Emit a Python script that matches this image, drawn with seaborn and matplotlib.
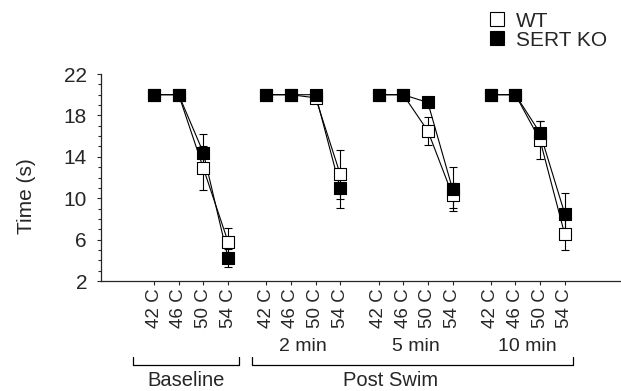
import matplotlib.pyplot as plt
import matplotlib.lines as mlines
import seaborn as sns
import pandas as pd
import numpy as np

sns.set_style('ticks')
plt.rcParams['font.family'] = ['Liberation Sans', 'DejaVu Sans']

# data
temps = ['42 C', '46 C', '50 C', '54 C']
groups = ['Baseline', '2 min', '5 min', '10 min']
wt_time = [20, 20, 12.9, 5.8, 20, 20, 19.7, 12.3, 20, 20, 16.5, 10.3, 20, 20, 15.6, 6.5]
wt_err = [0, 0, 2.1, 1.35, 0, 0, 0, 2.4, 0, 0, 1.35, 1.2, 0, 0, 1.85, 1.55]
ko_time = [20, 20, 14.4, 4.25, 20, 20, 20, 10.95, 20, 20, 19.25, 10.9, 20, 20, 16.3, 8.5]
ko_err = [0, 0, 1.8, 0.85, 0, 0, 0, 1.9, 0, 0, 0, 2.1, 0, 0, 1.2, 2.0]

gap = 4.55
xpos = [g * gap + i for g in range(len(groups)) for i in range(len(temps))]
rows = []
for geno, t, e in [('WT', wt_time, wt_err), ('SERT KO', ko_time, ko_err)]:
    for k in range(len(xpos)):
        rows.append({'geno': geno, 'group': groups[k // 4], 'temp': temps[k % 4],
                     'x': xpos[k], 'time': t[k], 'err': e[k]})
df = pd.DataFrame(rows)

fig = plt.figure(figsize=(6.21, 3.91), dpi=100)
ax = fig.add_axes([0.1626, 0.2813, 0.8374, 0.5294])

for geno in ['WT', 'SERT KO']:
    sub = df[df['geno'] == geno]
    sns.lineplot(data=sub, x='x', y='time', units='group', estimator=None,
                 color='black', lw=0.8, ax=ax, legend=False, zorder=2)
    ax.errorbar(sub['x'], sub['time'], yerr=sub['err'], fmt='none', ecolor='black',
                elinewidth=0.8, capsize=3, capthick=0.8, zorder=2)
for geno, face in [('WT', 'white'), ('SERT KO', 'black')]:
    sub = df[df['geno'] == geno]
    sns.scatterplot(data=sub, x='x', y='time', marker='s', s=80, color=face,
                    edgecolor='black', linewidth=0.8, ax=ax, legend=False, zorder=3)

ax.set_xlim(-2.15, 18.93)
ax.set_ylim(2, 22)
ax.set_yticks(np.arange(2, 23, 4))
ax.set_yticks(np.arange(2, 23, 1), minor=True)
ax.set_xticks(xpos)
ax.set_xticklabels(temps * len(groups), rotation=90, fontsize=13.5)
ax.tick_params(axis='y', which='major', length=3, width=0.8, labelsize=15, pad=7)
ax.tick_params(axis='y', which='minor', length=2.5, width=0.8)
ax.tick_params(axis='x', length=3, width=0.8, pad=2)
ax.set_xlabel('')
ax.set_ylabel('Time (s)', fontsize=15)
ax.yaxis.set_label_coords(-0.125, 0.41)
for s in ['top', 'right']:
    ax.spines[s].set_visible(False)
for s in ['left', 'bottom']:
    ax.spines[s].set_linewidth(0.9)

tr = ax.get_xaxis_transform()
for g in range(1, len(groups)):
    ax.text(g * gap + 1.5, -0.315, groups[g], transform=tr, ha='center', va='center', fontsize=14)
ax.plot([-0.85, -0.85, 3.45, 3.45], [-0.367, -0.406, -0.406, -0.367], transform=tr,
        clip_on=False, color='black', lw=0.9)
ax.plot([3.97, 3.97, 17.0, 17.0], [-0.367, -0.406, -0.406, -0.367], transform=tr,
        clip_on=False, color='black', lw=0.9)
ax.text(1.3, -0.483, 'Baseline', transform=tr, ha='center', va='center', fontsize=14.5)
ax.text(9.6, -0.483, 'Post Swim', transform=tr, ha='center', va='center', fontsize=14.5)

h_wt = mlines.Line2D([], [], ls='none', marker='s', ms=10, mfc='white', mec='black', mew=0.8)
h_ko = mlines.Line2D([], [], ls='none', marker='s', ms=10, mfc='black', mec='black', mew=0.8)
fig.legend([h_wt, h_ko], ['WT', 'SERT KO'], loc='upper left', bbox_to_anchor=(0.7836, 0.97),
           frameon=False, fontsize=15, handlelength=1.0, handletextpad=0.4,
           labelspacing=0.0, borderpad=0, borderaxespad=0)

fig.savefig('out.png', dpi=100)
